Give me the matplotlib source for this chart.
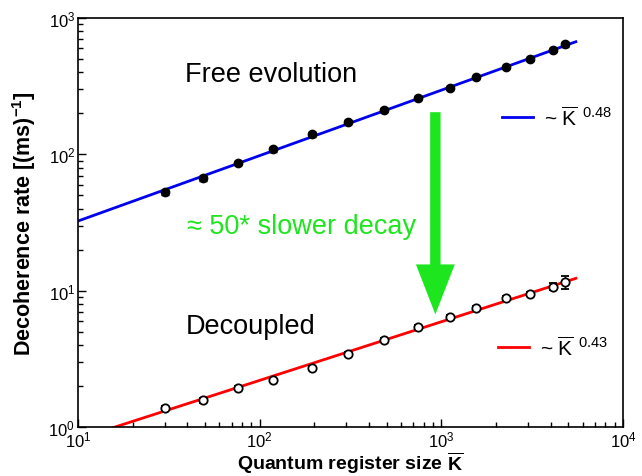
import numpy as np
import matplotlib
matplotlib.use('Agg')
import matplotlib.pyplot as plt

# register size K and decoherence rates
k_free = [30, 49, 76, 119, 193, 305, 486, 748, 1120, 1556, 2276, 3083, 4124, 4800]
rate_free = [52.6, 66.6, 85.9, 109, 140, 172, 211, 258, 306, 368, 436, 500, 582, 644]
err_free = [2.0, 2.5, 3.0, 4.0, 5.0, 6.0, 7.0, 8.0, 9.0, 10.0, 12.0, 14.0, 20.0, 28.0]

k_dec = [30, 49, 76, 119, 193, 305, 486, 748, 1120, 1556, 2276, 3083, 4124, 4800]
rate_dec = [1.38, 1.57, 1.94, 2.22, 2.72, 3.44, 4.36, 5.44, 6.44, 7.50, 8.89, 9.51, 10.7, 11.6]
err_dec = [0.05, 0.06, 0.07, 0.08, 0.10, 0.12, 0.15, 0.18, 0.22, 0.25, 0.30, 0.35, 0.65, 1.3]

exp_free = 0.48
exp_dec = 0.43

plt.rcParams['font.family'] = ['Liberation Sans', 'DejaVu Sans']
plt.rcParams['mathtext.fontset'] = 'custom'
plt.rcParams['mathtext.rm'] = 'Liberation Sans'
plt.rcParams['mathtext.it'] = 'Liberation Sans:italic'
plt.rcParams['mathtext.bf'] = 'Liberation Sans:bold'


def fit_prefactor(k, r, p):
    k = np.asarray(k, float)
    r = np.asarray(r, float)
    return 10 ** np.mean(np.log10(r) - p * np.log10(k))


fig = plt.figure(figsize=(6.42, 4.77), dpi=100)
ax = fig.add_axes([0.1215, 0.1027, 0.8489, 0.8573])

kk = np.logspace(1, np.log10(5500), 200)
a_free = fit_prefactor(k_free, rate_free, exp_free)
a_dec = fit_prefactor(k_dec, rate_dec, exp_dec)
l1, = ax.plot(kk, a_free * kk ** exp_free, color='#0000ee', lw=2.0, zorder=2,
              label=r'~ $\overline{\mathrm{K}}^{\ \,0.48}$')
l2, = ax.plot(kk, a_dec * kk ** exp_dec, color='#ff0000', lw=2.0, zorder=2,
              label=r'~ $\overline{\mathrm{K}}^{\ \,0.43}$')

ax.errorbar(k_free, rate_free, yerr=err_free, fmt='o', color='black', ms=6,
            mfc='black', mec='black', capsize=3, elinewidth=1, capthick=1, zorder=3)
ax.errorbar(k_dec, rate_dec, yerr=err_dec, fmt='o', color='black', ms=6,
            mfc='white', mec='black', mew=1.3, capsize=3, elinewidth=1, capthick=1, zorder=3)

ax.set_xscale('log')
ax.set_yscale('log')
ax.set_xlim(10, 1e4)
ax.set_ylim(1, 1e3)

ax.tick_params(which='both', direction='in', top=False, right=False, labelsize=12, pad=2)
ax.tick_params(which='major', length=6, width=1)
ax.tick_params(which='minor', length=3.5, width=1)
for s in ax.spines.values():
    s.set_linewidth(1.2)

ax.set_xlabel(r'Quantum register size $\overline{\mathbf{K}}$', fontsize=14, fontweight='bold')
ax.xaxis.label.set_va('center')
ax.xaxis.set_label_coords(0.5, -0.085)
ax.set_ylabel(r'Decoherence rate [(ms)$^{\mathbf{-1}}$]', fontsize=15.5, fontweight='bold')
ax.yaxis.set_label_coords(-0.074, 0.5)

ax.text(39, 387, 'Free evolution', fontsize=19.5, va='center', ha='left')
ax.text(39, 5.5, 'Decoupled', fontsize=19.5, va='center', ha='left')
ax.text(40, 29.6, u'\u2248 50* slower decay', fontsize=19.5, va='center', ha='left', color='#1ee61e')

ax.annotate('', xy=(927, 6.7), xytext=(927, 204),
            arrowprops=dict(width=7.5, headwidth=28, headlength=36, shrink=0,
                            color='#1ee61e', lw=0))

leg1 = ax.legend(handles=[l1], loc='center left', bbox_to_anchor=(0.778, 0.758),
                 frameon=False, fontsize=15, handlelength=1.5, handletextpad=0.5,
                 borderpad=0, borderaxespad=0)
ax.add_artist(leg1)
ax.legend(handles=[l2], loc='center left', bbox_to_anchor=(0.771, 0.196),
          frameon=False, fontsize=15, handlelength=1.5, handletextpad=0.5,
          borderpad=0, borderaxespad=0)

fig.savefig('out.png', dpi=100)
